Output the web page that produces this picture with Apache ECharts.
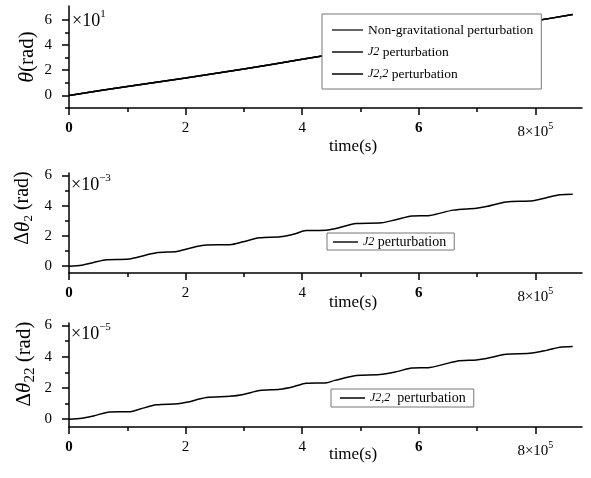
<!DOCTYPE html>
<html>
<head>
<meta charset="utf-8">
<script src="https://cdn.jsdelivr.net/npm/echarts@6/dist/echarts.min.js"></script>
<style>
  html, body { margin: 0; padding: 0; background: #fff; }
  #chart { width: 591px; height: 478px; }
</style>
</head>
<body>
<div id="chart"></div>
<script>
// time in units of 1e5 s
const timeTheta = [0, 1, 2, 3, 4, 5, 6, 7, 8, 8.64];
// theta in units of 1e1 rad
const theta = [0, 0.71, 1.38, 2.1, 2.87, 3.62, 4.38, 5.14, 5.92, 6.42];

const timeJ2 = [0, 0.22, 0.42, 0.65, 0.99, 1.16, 1.5, 1.85, 2.02, 2.36, 2.76, 2.99, 3.27, 3.62, 3.85, 4.07, 4.41,
  4.56, 4.93, 5.36, 5.62, 5.88, 6.19, 6.59, 6.99, 7.16, 7.5, 7.96, 8.19, 8.42, 8.64];
// delta theta_2 in units of 1e-3 rad
const dThetaJ2 = [0, 0.06, 0.24, 0.43, 0.45, 0.58, 0.88, 0.97, 1.14, 1.40, 1.42, 1.61, 1.87, 1.94, 2.11, 2.35, 2.37,
  2.47, 2.82, 2.86, 3.08, 3.31, 3.35, 3.70, 3.83, 3.94, 4.24, 4.32, 4.52, 4.71, 4.75];

const timeJ22 = [0, 0.22, 0.42, 0.70, 1.05, 1.22, 1.5, 1.87, 2.02, 2.36, 2.76, 2.99, 3.27, 3.62, 3.85, 4.07, 4.42,
  4.56, 4.93, 5.33, 5.62, 5.88, 6.19, 6.65, 6.99, 7.16, 7.5, 7.9, 8.19, 8.42, 8.64];
// delta theta_22 in units of 1e-5 rad
const dThetaJ22 = [0, 0.06, 0.21, 0.46, 0.48, 0.65, 0.92, 0.98, 1.08, 1.38, 1.46, 1.58, 1.83, 1.92, 2.08, 2.29, 2.33,
  2.48, 2.79, 2.85, 3.04, 3.27, 3.31, 3.71, 3.79, 3.88, 4.15, 4.21, 4.40, 4.60, 4.65];

const xMajor = [0, 2, 4, 6, 8];
const xMinor = [1, 3, 5, 7];
const yMajor = [0, 2, 4, 6];

const FONT = 'Liberation Serif';

const pairs = (xs, ys) => xs.map((x, i) => [x, ys[i]]);

const chart = echarts.init(document.getElementById('chart'));

const grids = [
  { top: 6, height: 102, yMin: -1, yMax: 7.1, yMinor: [-1, 1, 3, 5] },
  { top: 173, height: 100, yMin: -0.45, yMax: 6.15, yMinor: [1, 3, 5] },
  { top: 323, height: 104, yMin: -0.5, yMax: 6.15, yMinor: [1, 3, 5] }
];

const xAxes = [];
const yAxes = [];
grids.forEach((g, i) => {
  xAxes.push({
    gridIndex: i, type: 'value', position: 'bottom', min: 0, max: 8.8,
    axisLine: { onZero: false, lineStyle: { color: '#000', width: 1.5 } },
    axisTick: { customValues: xMajor, length: 7, lineStyle: { color: '#000', width: 1.5 } },
    axisLabel: {
      customValues: xMajor, margin: 13, color: '#000', fontFamily: FONT, fontSize: 15,
      formatter: v => v === 8 ? '8×10{sup|5}' : (v === 0 || v === 6) ? '{b|' + v + '}' : String(v),
      rich: {
        b: { fontWeight: 'bold', fontSize: 15, fontFamily: FONT, color: '#000' },
        sup: { fontSize: 10, fontFamily: FONT, color: '#000', verticalAlign: 'top', padding: [0, 0, 12, 0] }
      }
    },
    splitLine: { show: false }
  });
  xAxes.push({
    gridIndex: i, type: 'value', position: 'bottom', min: 0, max: 8.8,
    axisLine: { show: false, onZero: false },
    axisTick: { customValues: xMinor, length: 4, lineStyle: { color: '#000', width: 1.5 } },
    axisLabel: { show: false },
    splitLine: { show: false }
  });
  yAxes.push({
    gridIndex: i, type: 'value', position: 'left', min: g.yMin, max: g.yMax,
    axisLine: { show: true, onZero: false, lineStyle: { color: '#000', width: 1.5 } },
    axisTick: { show: true, customValues: yMajor, length: 7, lineStyle: { color: '#000', width: 1.5 } },
    axisLabel: { customValues: yMajor, margin: 17, color: '#000', fontFamily: FONT, fontSize: 15 },
    splitLine: { show: false }
  });
  yAxes.push({
    gridIndex: i, type: 'value', position: 'left', min: g.yMin, max: g.yMax,
    axisLine: { show: false, onZero: false },
    axisTick: { show: true, customValues: g.yMinor, length: 4, lineStyle: { color: '#000', width: 1.5 } },
    axisLabel: { show: false },
    splitLine: { show: false }
  });
});

const lineSeries = (name, grid, data, color) => ({
  name, type: 'line', xAxisIndex: grid * 2, yAxisIndex: grid * 2,
  data, showSymbol: false, smooth: 0.3, color,
  lineStyle: { color, width: 1.5 }
});

const legendRich = {
  j: { fontStyle: 'italic', fontSize: 12, fontFamily: FONT, color: '#000' }
};
const legendFormatter = name => name.replace(/^(J2,2|J2)/, '{j|$1}');

const legendBase = {
  orient: 'vertical', icon: 'rect', itemHeight: 1.5, itemGap: 5,
  backgroundColor: '#fff', borderColor: '#777', borderWidth: 1, borderRadius: 0,
  textStyle: { color: '#000', fontFamily: FONT, fontSize: 14, rich: legendRich },
  formatter: legendFormatter
};

const sup = { fontSize: 11, fontFamily: FONT, color: '#000', verticalAlign: 'top', padding: [0, 0, 14, 0] };
const sub = { fontSize: 13, fontFamily: FONT, color: '#000', verticalAlign: 'bottom', padding: [12, 0, 0, 0] };
const ital = { fontStyle: 'italic', fontSize: 21, fontFamily: FONT, color: '#000' };

const textEl = (text, x, y, fontSize, rich, rotation) => ({
  type: 'text', x, y, rotation: rotation || 0, z: 10,
  style: { text, fontSize, fontFamily: FONT, fill: '#000', align: rotation ? 'center' : 'left',
    verticalAlign: 'middle', rich }
});

const timeLabel = y => ({
  type: 'text', x: 353, y, z: 10,
  style: { text: 'time(s)', fontSize: 17, fontFamily: FONT, fill: '#000', align: 'center', verticalAlign: 'middle' }
});

const option = {
  animation: false,
  grid: grids.map(g => ({ left: 69, right: 9, top: g.top, height: g.height })),
  xAxis: xAxes,
  yAxis: yAxes,
  legend: [
    Object.assign({}, legendBase, {
      left: 322, top: 14, itemWidth: 31, itemGap: 8, padding: [9, 8, 8, 10],
      textStyle: { color: '#000', fontFamily: FONT, fontSize: 13.5, rich: legendRich },
      data: ['Non-gravitational perturbation', 'J2 perturbation', 'J2,2 perturbation']
    }),
    Object.assign({}, legendBase, {
      left: 327, top: 233, itemWidth: 25, padding: [2, 8, 1, 6],
      data: ['J2 perturbation']
    }),
    Object.assign({}, legendBase, {
      left: 331, top: 389, itemWidth: 25, padding: [2, 8, 2, 9],
      data: ['J2,2  perturbation']
    })
  ],
  series: [
    lineSeries('Non-gravitational perturbation', 0, pairs(timeTheta, theta), '#333'),
    lineSeries('J2 perturbation', 0, pairs(timeTheta, theta), '#111'),
    lineSeries('J2,2 perturbation', 0, pairs(timeTheta, theta), '#000'),
    lineSeries('J2 perturbation', 1, pairs(timeJ2, dThetaJ2), '#000'),
    lineSeries('J2,2  perturbation', 2, pairs(timeJ22, dThetaJ22), '#000')
  ],
  graphic: [
    textEl('×10{sup|1}', 72, 21, 18, { sup }),
    textEl('×10{sup|−3}', 71, 185, 18, { sup }),
    textEl('×10{sup|−5}', 71, 334, 18, { sup }),
    timeLabel(147),
    timeLabel(303),
    timeLabel(455),
    textEl('{i|θ}(rad)', 27, 57, 21, { i: Object.assign({}, ital, { fontSize: 22 }) }, Math.PI / 2),
    textEl('Δ{i|θ}{sub|2} (rad)', 23, 208, 20, { i: ital, sub }, Math.PI / 2),
    textEl('Δ{i|θ}{sub|22} (rad)', 24, 364, 21, { i: ital, sub: Object.assign({}, sub, { fontSize: 15 }) }, Math.PI / 2)
  ]
};

chart.setOption(option);
</script>
</body>
</html>
